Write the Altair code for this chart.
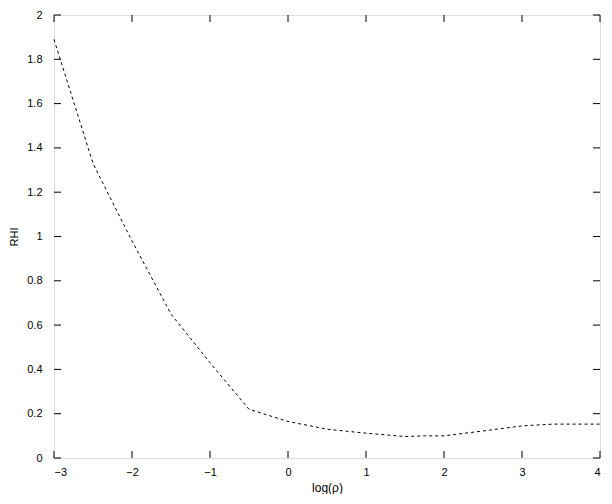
import altair as alt
import pandas as pd

# data
log_rho = [-3.0, -2.5, -2.0, -1.5, -1.0, -0.5, 0.0, 0.5, 1.0, 1.5, 1.75, 2.0, 2.5, 3.0, 3.4, 4.0]
rhi = [1.89, 1.33, 0.98, 0.65, 0.43, 0.22, 0.165, 0.13, 0.112, 0.097, 0.10, 0.10, 0.122, 0.145, 0.153, 0.153]
x_ticks = [-3, -2, -1, 0, 1, 2, 3, 4]
y_ticks = [0, 0.2, 0.4, 0.6, 0.8, 1, 1.2, 1.4, 1.6, 1.8, 2]

W, H = 546, 443
FONT = "Liberation Sans"

df = pd.DataFrame({"x": log_rho, "y": rhi})
dfx = pd.DataFrame({"v": x_ticks})
dfy = pd.DataFrame({"v": y_ticks})

xs = alt.Scale(domain=[-3, 4], nice=False, zero=False)
ys = alt.Scale(domain=[0, 2], nice=False, zero=False)

line = alt.Chart(df).mark_line(color="black", strokeWidth=1, strokeDash=[3, 3]).encode(
    x=alt.X("x:Q", scale=xs, axis=alt.Axis(
        values=x_ticks, ticks=False, domain=False, grid=False, labelPadding=8,
        labelFontSize=11, labelFont=FONT, labelColor="black", format="~g",
        title="log(ρ)", titleFont=FONT, titleFontSize=12, titleFontWeight="normal",
        titleColor="black", titleY=29, titleBaseline="middle")),
    y=alt.Y("y:Q", scale=ys, axis=alt.Axis(
        values=y_ticks, ticks=False, domain=False, grid=False, labelPadding=12,
        labelFontSize=11, labelFont=FONT, labelColor="black", format="~g",
        title="RHI", titleFont=FONT, titleFontSize=11, titleFontWeight="normal",
        titleColor="black", titleX=-40, titleY=H / 2, titleAlign="center",
        titleBaseline="middle", titleAngle=-90)),
)

tick_style = dict(color="black", strokeWidth=1)
xb = alt.Chart(dfx).mark_rule(**tick_style).encode(
    x=alt.X("v:Q", scale=xs), y=alt.value(H), y2=alt.value(H - 7))
xt = alt.Chart(dfx).mark_rule(**tick_style).encode(
    x=alt.X("v:Q", scale=xs), y=alt.value(0), y2=alt.value(7))
yl = alt.Chart(dfy).mark_rule(**tick_style).encode(
    y=alt.Y("v:Q", scale=ys), x=alt.value(0), x2=alt.value(7))
yr = alt.Chart(dfy).mark_rule(**tick_style).encode(
    y=alt.Y("v:Q", scale=ys), x=alt.value(W), x2=alt.value(W - 7))

chart = alt.layer(line, xb, xt, yl, yr).properties(
    width=W, height=H,
    autosize=alt.AutoSizeParams(type="none"),
    padding={"left": 46, "top": 7, "right": 4, "bottom": 36},
).configure_view(stroke="black", strokeWidth=1).configure(background="white")

chart.save("out.html", embed_options={"renderer": "svg", "actions": False})
